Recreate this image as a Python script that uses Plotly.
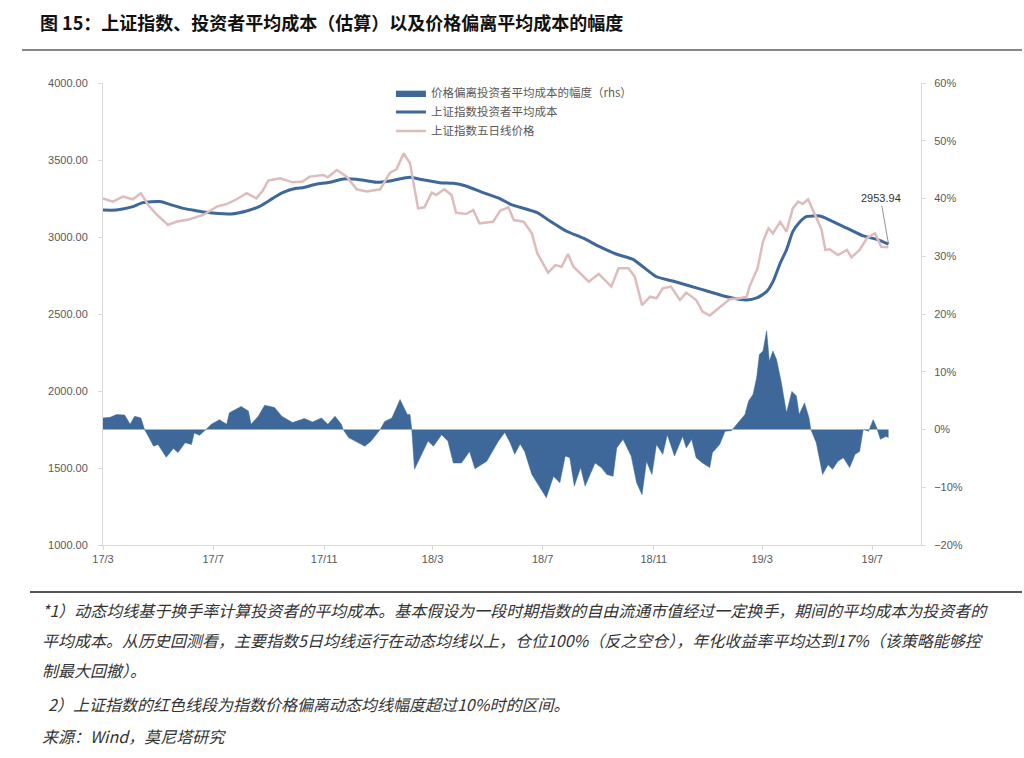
import plotly.graph_objects as go

# ---------------- data ----------------
cost_dates = ["2017-03-01","2017-03-16","2017-04-03","2017-04-14","2017-05-03","2017-05-14","2017-05-29",
    "2017-06-12","2017-06-23","2017-07-21","2017-08-07","2017-08-22","2017-09-05","2017-09-16","2017-10-01",
    "2017-10-08","2017-10-23","2017-11-07","2017-11-22","2017-12-07","2017-12-29","2018-01-13","2018-02-04",
    "2018-02-15","2018-03-09","2018-03-24","2018-04-07","2018-04-26","2018-05-15","2018-05-26","2018-06-06",
    "2018-06-25","2018-07-09","2018-07-27","2018-08-15","2018-09-02","2018-09-21","2018-10-09","2018-10-20",
    "2018-11-04","2018-11-22","2018-12-11","2018-12-29","2019-01-21","2019-02-12","2019-02-23","2019-03-06",
    "2019-03-13","2019-03-21","2019-03-28","2019-04-04","2019-04-11","2019-04-19","2019-05-04","2019-05-15",
    "2019-06-03","2019-06-21","2019-07-06","2019-07-19"]
cost_values = [3175,3175,3197,3223,3230,3212,3186,3171,3160,3150,3169,3201,3251,3288,3316,3320,3342,3355,
    3377,3375,3355,3364,3388,3375,3353,3349,3331,3288,3248,3214,3193,3158,3104,3039,2992,2937,2888,2855,
    2807,2742,2714,2682,2651,2612,2591,2604,2645,2710,2829,2916,3035,3093,3132,3136,3110,3057,3007,2985,2953.94]

price_dates = ["2017-03-01","2017-03-12","2017-03-23","2017-04-03","2017-04-12","2017-04-20","2017-04-29",
    "2017-05-12","2017-05-21","2017-06-05","2017-06-20","2017-07-05","2017-07-16","2017-07-27","2017-08-07",
    "2017-08-18","2017-08-25","2017-08-31","2017-09-13","2017-09-27","2017-10-08","2017-10-16","2017-10-31",
    "2017-11-05","2017-11-15","2017-11-26","2017-12-07","2017-12-18","2018-01-02","2018-01-13","2018-01-20",
    "2018-01-28","2018-02-04","2018-02-13","2018-02-20","2018-02-28","2018-03-05","2018-03-14","2018-03-22",
    "2018-03-27","2018-04-07","2018-04-15","2018-04-22","2018-05-07","2018-05-15","2018-05-24","2018-05-30",
    "2018-06-10","2018-06-19","2018-06-25","2018-07-07","2018-07-15","2018-07-22","2018-07-29","2018-08-04",
    "2018-08-12","2018-08-21","2018-09-01","2018-09-15","2018-09-23","2018-10-04","2018-10-11","2018-10-19",
    "2018-10-28","2018-11-04","2018-11-11","2018-11-20","2018-11-30","2018-12-07","2018-12-18","2018-12-25",
    "2019-01-02","2019-01-13","2019-01-24","2019-02-04","2019-02-12","2019-02-15","2019-02-24","2019-03-02",
    "2019-03-08","2019-03-13","2019-03-21","2019-03-28","2019-04-04","2019-04-10","2019-04-15","2019-04-21",
    "2019-04-27","2019-05-06","2019-05-10","2019-05-15","2019-05-24","2019-06-03","2019-06-08","2019-06-17",
    "2019-06-25","2019-07-04","2019-07-11","2019-07-19"]
price_values = [3251,3230,3262,3245,3284,3208,3149,3078,3099,3115,3143,3197,3214,3245,3284,3251,3301,3366,
    3381,3355,3360,3392,3403,3388,3435,3392,3310,3295,3310,3418,3440,3543,3479,3186,3193,3288,3273,3310,
    3273,3158,3149,3175,3089,3099,3171,3193,3110,3099,3024,2894,2768,2818,2807,2890,2807,2764,2710,2760,
    2678,2797,2797,2742,2558,2612,2602,2667,2678,2591,2639,2591,2516,2490,2544,2596,2602,2612,2678,2797,
    2970,3057,3024,3099,3035,3186,3230,3214,3245,3165,3046,2916,2920,2883,2916,2868,2916,2992,3024,2937,2933]

dev_dates = ["2017-03-01","2017-03-09","2017-03-16","2017-03-25","2017-03-31","2017-04-05","2017-04-12",
    "2017-04-16","2017-04-22","2017-04-26","2017-05-01","2017-05-10","2017-05-18","2017-05-23","2017-05-31",
    "2017-06-07","2017-06-10","2017-06-16","2017-06-23","2017-06-29","2017-07-08","2017-07-16","2017-07-19",
    "2017-08-01","2017-08-09","2017-08-12","2017-08-20","2017-08-27","2017-09-07","2017-09-15","2017-09-27",
    "2017-10-10","2017-10-19","2017-10-29","2017-11-05","2017-11-13","2017-11-20","2017-11-22","2017-11-28",
    "2017-12-09","2017-12-16","2017-12-23","2018-01-02","2018-01-07","2018-01-15","2018-01-24","2018-02-01",
    "2018-02-04","2018-02-06","2018-02-09","2018-02-18","2018-02-24","2018-03-02","2018-03-11","2018-03-18",
    "2018-03-24","2018-04-02","2018-04-11","2018-04-17","2018-04-30","2018-05-13","2018-05-20","2018-05-26",
    "2018-05-31","2018-06-06","2018-06-11","2018-06-19","2018-06-26","2018-07-05","2018-07-13","2018-07-20",
    "2018-07-26","2018-07-31","2018-08-05","2018-08-12","2018-08-17","2018-08-28","2018-09-04","2018-09-10",
    "2018-09-17","2018-09-21","2018-09-28","2018-10-07","2018-10-13","2018-10-19","2018-10-24","2018-10-30",
    "2018-11-04","2018-11-11","2018-11-16","2018-11-24","2018-12-03","2018-12-07","2018-12-13","2018-12-18",
    "2018-12-25","2019-01-02","2019-01-05","2019-01-13","2019-01-19","2019-01-26","2019-02-01","2019-02-10",
    "2019-02-14","2019-02-19","2019-02-23","2019-02-26","2019-03-02","2019-03-06","2019-03-09","2019-03-13",
    "2019-03-17","2019-03-22","2019-03-28","2019-04-03","2019-04-08","2019-04-11","2019-04-17","2019-04-22",
    "2019-04-24","2019-04-30","2019-05-07","2019-05-13","2019-05-18","2019-05-24","2019-05-30","2019-06-06",
    "2019-06-12","2019-06-17","2019-06-21","2019-06-27","2019-07-02","2019-07-06","2019-07-10","2019-07-16",
    "2019-07-19"]
dev_values = [2.0,2.1,2.6,2.5,0.9,2.3,2.0,0.0,-1.7,-2.9,-2.6,-4.8,-3.3,-4.0,-2.3,-2.6,-0.6,-1.0,0.0,0.9,
    1.7,0.9,2.9,4.0,3.2,0.9,2.3,4.2,3.8,2.3,1.2,1.9,1.3,2.0,0.9,2.3,0.9,0.0,-1.4,-2.3,-2.9,-2.0,0.0,1.4,
    2.0,5.2,2.6,2.6,0.0,-6.9,-3.8,-2.0,-2.9,-0.9,-2.0,-5.8,-5.8,-3.8,-6.8,-5.5,-2.0,-0.5,-2.3,-4.3,-2.5,
    -3.8,-7.8,-9.5,-11.8,-8.1,-9.2,-4.6,-4.9,-9.8,-6.6,-9.8,-5.8,-6.6,-7.8,-8.1,-3.2,-1.7,-4.6,-9.2,-11.3,
    -5.5,-7.8,-2.6,-4.3,-0.9,-4.6,-1.2,-3.2,-1.7,-4.9,-5.8,-6.6,-4.0,-2.6,-0.3,-0.2,0.9,2.6,4.9,6.1,9.0,
    13.0,13.6,17.1,11.8,13.6,12.1,8.4,2.9,6.6,5.8,2.6,4.6,2.0,0.0,-2.3,-7.8,-6.1,-6.9,-5.5,-4.9,-6.6,-4.3,
    -3.8,0.0,-0.3,1.7,0.3,-1.7,-1.2,-1.4]

x_tick_vals = ["2017-03-01","2017-07-01","2017-11-01","2018-03-01","2018-07-01","2018-11-01","2019-03-01","2019-07-01"]
x_tick_text = ["17/3","17/7","17/11","18/3","18/7","18/11","19/3","19/7"]

names = ["价格偏离投资者平均成本的幅度（rhs）", "上证指数投资者平均成本", "上证指数五日线价格"]

BLUE = "#3D6899"
PINK = "#DDBCBC"
AX = "#D9D9D9"
TXT = "#595959"
CJK = "Noto Sans CJK SC"

fig = go.Figure()
fig.add_trace(go.Scatter(x=dev_dates, y=dev_values, name=names[0], yaxis="y2",
                         mode="lines", line=dict(color=BLUE, width=0.5),
                         fill="tozeroy", fillcolor=BLUE))
fig.add_trace(go.Scatter(x=cost_dates, y=cost_values, name=names[1], mode="lines",
                         line=dict(color=BLUE, width=3, shape="spline", smoothing=0.6)))
fig.add_trace(go.Scatter(x=price_dates, y=price_values, name=names[2], mode="lines",
                         line=dict(color=PINK, width=2.5)))

fig.update_layout(
    width=1024, height=758,
    margin=dict(l=103, r=103, t=83, b=213),
    paper_bgcolor="white", plot_bgcolor="white",
    font=dict(family="Liberation Sans, Arial", size=11, color=TXT),
    showlegend=True,
    legend=dict(x=0.352, y=1.01, xanchor="left", yanchor="top",
                bgcolor="rgba(0,0,0,0)", font=dict(family=CJK, size=11.5, color=TXT),
                tracegroupgap=0, itemwidth=30),
    xaxis=dict(type="date", range=["2017-03-01", "2019-08-24"],
               tickvals=x_tick_vals, ticktext=x_tick_text,
               showline=True, linecolor=AX, linewidth=1,
               ticks="outside", ticklen=4, tickcolor=AX,
               showgrid=False, zeroline=False,
               tickfont=dict(size=11, color=TXT)),
    yaxis=dict(range=[1000, 4000], dtick=500, tickformat=".2f",
               showline=True, linecolor=AX, linewidth=1,
               ticks="outside", ticklen=4, tickcolor=AX,
               showgrid=False, zeroline=False, ticklabelstandoff=8,
               tickfont=dict(size=11, color=TXT)),
    yaxis2=dict(range=[-20, 60], dtick=10, ticksuffix="%", overlaying="y", side="right",
                showline=True, linecolor=AX, linewidth=1,
                ticks="outside", ticklen=4, tickcolor=AX,
                showgrid=False, zeroline=False, ticklabelstandoff=6,
                tickfont=dict(size=11, color=TXT)),
)

# last value label
fig.add_annotation(x=cost_dates[-1], y=cost_values[-1], xref="x", yref="y",
                   text="2953.94", showarrow=True, arrowhead=0, arrowwidth=0.8,
                   arrowcolor="#777777", ax=-8, ay=-46,
                   font=dict(family="Liberation Sans, Arial", size=11, color="#333333"))

def px_x(px):
    return (px - 103) / 818.0

def px_y(py):
    return (545 - py) / 462.0

# title
fig.add_annotation(xref="paper", yref="paper", x=px_x(38), y=px_y(22), xanchor="left", yanchor="middle",
                   text="<b>图 15：上证指数、投资者平均成本（估算）以及价格偏离平均成本的幅度</b>",
                   showarrow=False, font=dict(family=CJK, size=18, color="#111111"))

# rules
fig.add_shape(type="line", xref="paper", yref="paper", x0=px_x(22), x1=px_x(1022),
              y0=px_y(50), y1=px_y(50), line=dict(color="#111111", width=1))
fig.add_shape(type="line", xref="paper", yref="paper", x0=px_x(30), x1=px_x(1022),
              y0=px_y(592), y1=px_y(592), line=dict(color="#555555", width=2))

notes = [
    (40, 610, "*1）动态均线基于换手率计算投资者的平均成本。基本假设为一段时期指数的自由流通市值经过一定换手，期间的平均成本为投资者的"),
    (40, 640, "平均成本。从历史回测看，主要指数5日均线运行在动态均线以上，仓位100%（反之空仓），年化收益率平均达到17%（该策略能够控"),
    (40, 670, "制最大回撤）。"),
    (46, 704, "2）上证指数的红色线段为指数价格偏离动态均线幅度超过10%时的区间。"),
    (40, 736, "来源：Wind，莫尼塔研究"),
]
for nx, ny, t in notes:
    fig.add_annotation(xref="paper", yref="paper", x=px_x(nx), y=px_y(ny), xanchor="left", yanchor="middle",
                       text="<i>" + t + "</i>", showarrow=False,
                       font=dict(family=CJK, size=16, color="#333333"))

fig.write_html("out.html")
